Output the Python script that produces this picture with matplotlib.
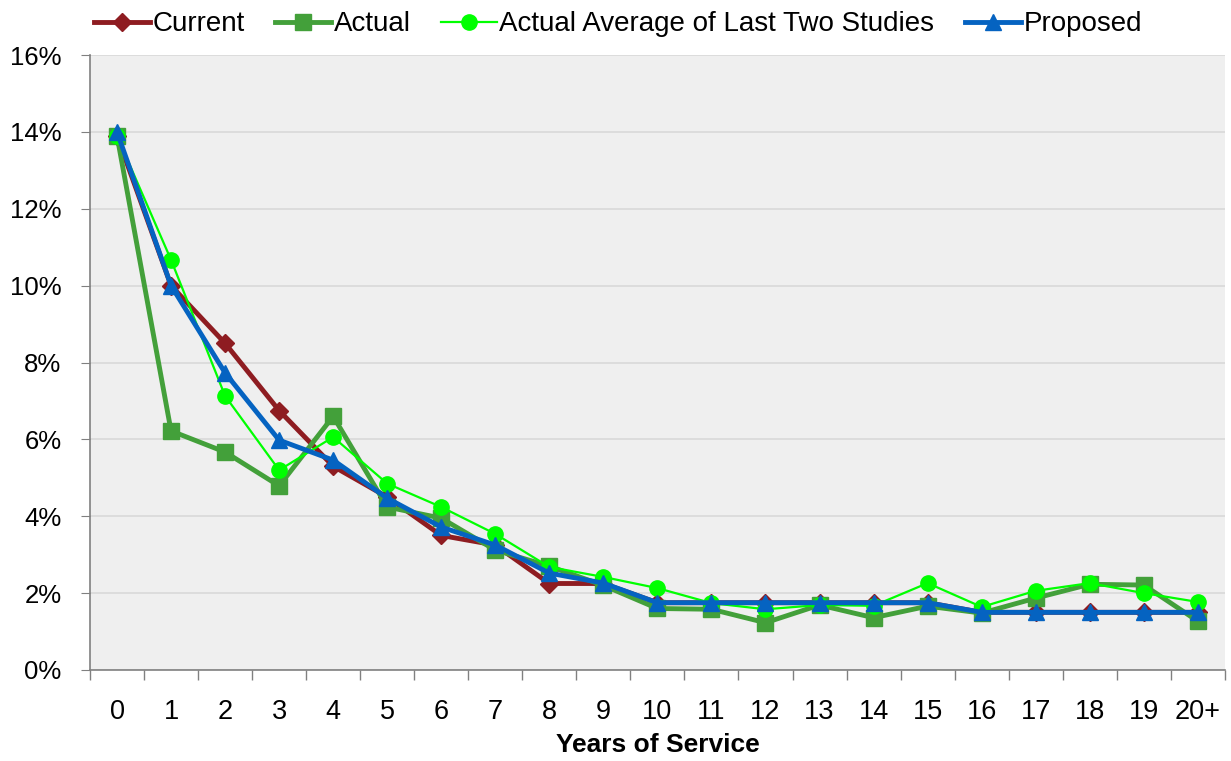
import matplotlib
matplotlib.use('Agg')
import matplotlib.pyplot as plt
from matplotlib.ticker import FuncFormatter, FixedLocator

plt.rcParams['font.family'] = ['Liberation Sans', 'DejaVu Sans']

years = ['0', '1', '2', '3', '4', '5', '6', '7', '8', '9', '10',
         '11', '12', '13', '14', '15', '16', '17', '18', '19', '20+']

current = [13.9, 10.0, 8.5, 6.75, 5.3, 4.5, 3.5, 3.25, 2.25, 2.25, 1.75,
           1.75, 1.75, 1.75, 1.75, 1.75, 1.5, 1.5, 1.5, 1.5, 1.5]
actual = [13.9, 6.22, 5.67, 4.79, 6.6, 4.24, 3.95, 3.12, 2.7, 2.2, 1.6,
          1.58, 1.23, 1.69, 1.36, 1.66, 1.48, 1.87, 2.23, 2.21, 1.27]
avg_two = [13.9, 10.67, 7.13, 5.2, 6.06, 4.85, 4.24, 3.54, 2.68, 2.42, 2.13,
           1.74, 1.58, 1.69, 1.67, 2.26, 1.64, 2.06, 2.26, 2.0, 1.77]
proposed = [14.0, 10.0, 7.73, 5.98, 5.46, 4.47, 3.72, 3.25, 2.52, 2.26, 1.75,
            1.75, 1.75, 1.75, 1.75, 1.75, 1.5, 1.5, 1.5, 1.5, 1.5]

fig = plt.figure(figsize=(12.31, 7.61), dpi=100)
ax = fig.add_axes([0.0731, 0.1196, 0.9219, 0.8081])
ax.set_facecolor('#EFEFEF')

x = list(range(len(years)))
ax.plot(x, current, color='#8E1C21', lw=3.5, marker='D', ms=9, label='Current')
ax.plot(x, actual, color='#43A03A', lw=3.5, marker='s', ms=11, label='Actual')
ax.plot(x, avg_two, color='#00FF00', lw=1.6, marker='o', ms=11,
        label='Actual Average of Last Two Studies')
ax.plot(x, proposed, color='#0563C1', lw=3.5, marker='^', ms=12, label='Proposed')

ax.set_xlim(-0.5, len(years) - 0.5)
ax.set_ylim(0, 16)
ax.set_yticks(range(0, 17, 2))
ax.yaxis.set_major_formatter(FuncFormatter(lambda v, p: '%d%%' % v))
ax.yaxis.grid(True, color='#D9D9D9', lw=1.2)
ax.set_axisbelow(True)

# category labels centred, ticks on the boundaries
ax.set_xticks(x)
ax.set_xticklabels(years)
ax.tick_params(axis='x', which='major', length=0, pad=21, labelsize=19.5)
ax.xaxis.set_minor_locator(FixedLocator([i - 0.5 for i in range(len(years) + 1)]))
ax.tick_params(axis='x', which='minor', length=7.5, color='#808080', width=1)
ax.tick_params(axis='y', length=6.5, color='#808080', labelsize=18.5, pad=14)

for s in ['top', 'right']:
    ax.spines[s].set_visible(False)
for s in ['left', 'bottom']:
    ax.spines[s].set_color('#808080')
    ax.spines[s].set_linewidth(1.2)

ax.set_xlabel('Years of Service', fontsize=19, fontweight='bold', labelpad=6)

fig.legend(loc='center', bbox_to_anchor=(0.502, 0.968), ncol=4, frameon=False,
           fontsize=20, handlelength=2.0, columnspacing=1.1, handletextpad=0.1)

fig.savefig('out.png', dpi=100)
